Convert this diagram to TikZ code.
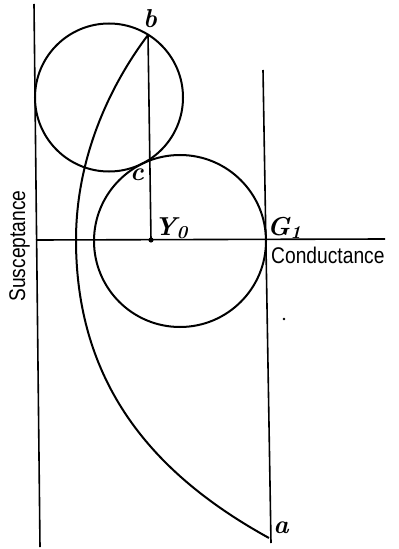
\documentclass[tikz,border=0pt]{standalone}
\usepackage{fontspec}
\newfontfamily\handfont{Liberation Sans}
\newcommand{\tallt}[1]{\scalebox{1}[1.18]{#1}}
\begin{document}
\begin{tikzpicture}[x=1bp,y=-1bp,
  ln/.style={line width=1.6bp},
  crv/.style={line width=2bp},
  lbl/.style={font=\fontsize{26}{28}\selectfont\bfseries\itshape, inner sep=0pt},
  axl/.style={font=\handfont\fontsize{19.3}{21}\selectfont, inner sep=0pt}]
\useasboundingbox[fill=white] (0,0) rectangle (398,549);
% named points
\coordinate (L1) at (34,4);
\coordinate (L2) at (40,547);
\coordinate (R1) at (263,70);
\coordinate (R2) at (271,543);
\coordinate (H1) at (36,240);
\coordinate (H2) at (385,239);
\coordinate (b) at (148,35);
\coordinate (Y) at (151,240);
\coordinate (m) at (76,240);
\coordinate (a) at (269,538);
\coordinate (C1) at (109,97.5);
\coordinate (C2) at (180,241);
% axes and guides
\draw[ln] (L1) -- (L2);
\draw[ln] (R1) -- (R2);
\draw[ln] (H1) -- (H2);
\draw[ln] (b) -- (Y);
\fill (Y) circle (2.6bp);
% circles
\draw[crv] (C1) circle (74bp);
\draw[crv] (C2) circle (86bp);
% locus curve
\draw[crv] (b) .. controls (108,88) and (76,160) .. (m)
               .. controls (76,390) and (160,478) .. (a);
% stray dot
\fill (284,319) circle (1.4bp);
% labels
\node[lbl] (lb) at (150,19) {b};
\node[lbl] (lc) at (137,175) {c};
\node[lbl, anchor=base west] (lY) at (154,235) {Y\textsubscript{0}};
\node[lbl, anchor=base west] (lG) at (267,235) {G\textsubscript{1}};
\node[lbl] (la) at (281,528) {a};
\node[axl, anchor=base west] (cond) at (271,263) {\tallt{Conductance}};
\node[axl, anchor=base, rotate=90] (susc) at (25,246) {\tallt{Susceptance}};
\end{tikzpicture}
\end{document}
